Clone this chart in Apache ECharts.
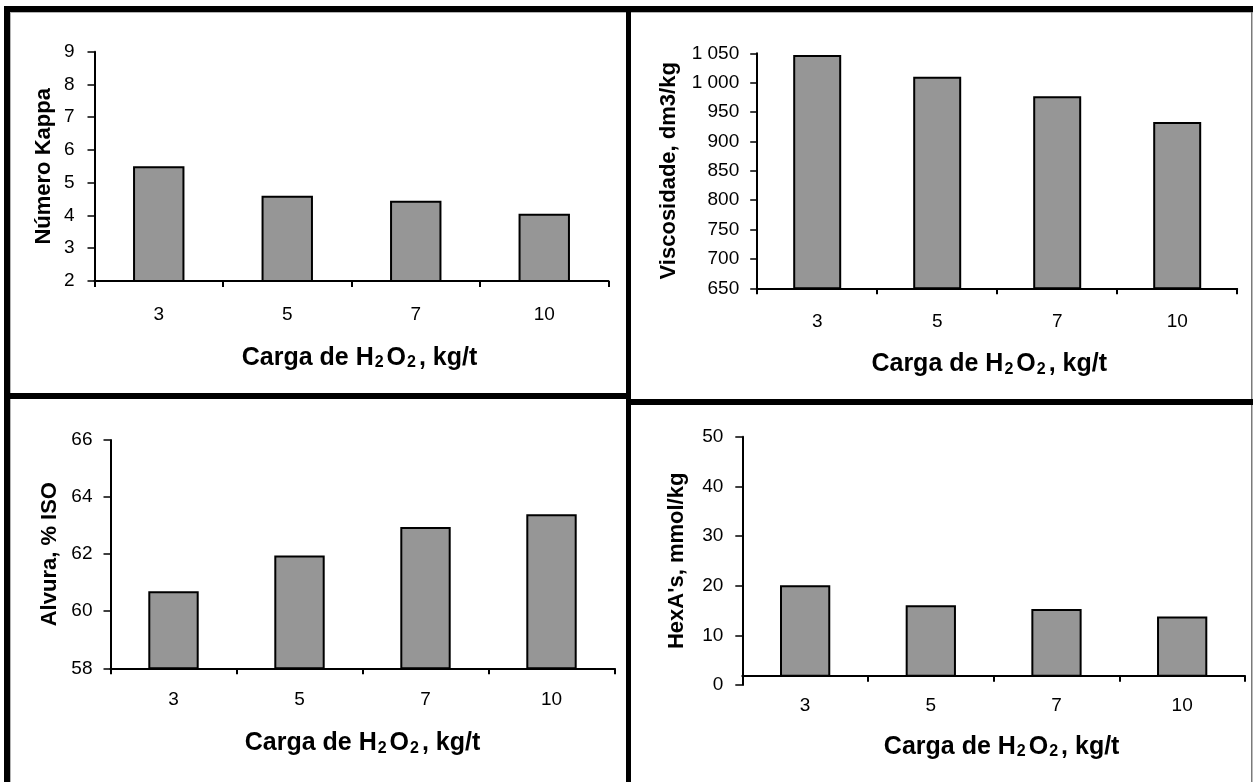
<!DOCTYPE html>
<html>
<head>
<meta charset="utf-8">
<script src="https://cdn.jsdelivr.net/npm/echarts@6/dist/echarts.min.js"></script>
<style>
  html, body { margin: 0; padding: 0; background: #fff; }
  #chart { width: 1253px; height: 782px; }
</style>
</head>
<body>
<div id="chart"></div>
<script>
// Peroxide charge (kg/t) on the category axis of every panel
const categories = ['3', '5', '7', '10'];

// Measured pulp properties per charge
const kappa = [5.5, 4.6, 4.45, 4.05];
const viscosidade = [1047, 1010, 977, 933];
const alvura = [60.7, 61.95, 62.95, 63.4];
const hexa = [20.1, 16.1, 15.3, 13.8];

// Value-axis ranges: [min, max, interval]
const kappaScale = [2, 9, 1];
const viscScale = [650, 1050, 50];
const alvuraScale = [58, 66, 2];
const hexaScale = [0, 50, 10];
// value at which the category axis crosses the HexA value axis
const hexaCross = 1.9;

// Axis titles
const yTitles = ['Número Kappa', 'Viscosidade, dm3/kg', 'Alvura, % ISO', "HexA's, mmol/kg"];
const xTitle = 'Carga de H{s|2}O{s|2}, kg/t';

const FONT = '"Liberation Sans", Arial, Helvetica, sans-serif';
const BAR = '#969696';

function thousands(v) {
  return String(v).replace(/\B(?=(\d{3})+(?!\d))/g, ' ');
}

const xNameStyle = {
  fontFamily: FONT, fontWeight: 'bold', fontSize: 25, color: '#000', lineHeight: 28,
  rich: {
    s: { fontFamily: FONT, fontWeight: 'bold', fontSize: 16, lineHeight: 16, padding: [10, 3, 0, 1], color: '#000' }
  }
};
const yNameStyle = { fontFamily: FONT, fontWeight: 'bold', fontSize: 22, color: '#000' };
const labelStyle = { fontFamily: FONT, fontSize: 19, color: '#000' };
const axisLine = { show: true, onZero: false, lineStyle: { color: '#000', width: 2 } };

function catAxis(gridIndex, labelMargin, nameGap, namePad) {
  return {
    type: 'category', gridIndex: gridIndex, data: categories, position: 'bottom',
    axisLine: axisLine,
    axisTick: { show: true, length: 6, lineStyle: { color: '#000', width: 2 } },
    axisLabel: Object.assign({ margin: labelMargin, interval: 0 }, labelStyle),
    splitLine: { show: false },
    name: xTitle, nameLocation: 'middle', nameGap: nameGap,
    nameTextStyle: Object.assign({ padding: namePad }, xNameStyle)
  };
}

function valAxis(gridIndex, scale, title, labelMargin, nameGap, fmt) {
  return {
    type: 'value', gridIndex: gridIndex,
    min: scale[0], max: scale[1], interval: scale[2],
    axisLine: axisLine,
    axisTick: { show: true, length: 7, lineStyle: { color: '#000', width: 1.5 } },
    axisLabel: Object.assign({ margin: labelMargin, formatter: fmt || null }, labelStyle),
    splitLine: { show: false },
    name: title, nameLocation: 'middle', nameGap: nameGap, nameRotate: 90,
    nameTextStyle: yNameStyle
  };
}

function bars(xi, yi, data) {
  return {
    type: 'bar', xAxisIndex: xi, yAxisIndex: yi, data: data,
    barCategoryGap: '60%', clip: true,
    itemStyle: { color: BAR, borderColor: '#000', borderWidth: 2 },
    emphasis: { disabled: true }, silent: true
  };
}

// Black table rules framing the four panels
const rules = [
  { x: 4, y: 6, w: 1249, h: 6 },
  { x: 4, y: 6, w: 6, h: 776 },
  { x: 626, y: 6, w: 5, h: 776 },
  { x: 4, y: 393, w: 625, h: 6 },
  { x: 626, y: 399, w: 627, h: 6 }
];
const graphics = rules.map(r => ({
  type: 'rect', silent: true, z: 100,
  shape: { x: r.x, y: r.y, width: r.w, height: r.h },
  style: { fill: '#000' }
}));
graphics.push(
  { type: 'rect', silent: true, shape: { x: 10, y: 12, width: 1, height: 770 }, style: { fill: '#b4b4b4' } },
  { type: 'rect', silent: true, shape: { x: 10, y: 12, width: 1243, height: 1 }, style: { fill: '#b4b4b4' } },
  { type: 'rect', silent: true, shape: { x: 1251, y: 12, width: 1.5, height: 770 }, style: { fill: '#7a7a7a' } }
);

const chart = echarts.init(document.getElementById('chart'), null, { renderer: 'canvas' });
chart.setOption({
  animation: false,
  backgroundColor: '#fff',
  textStyle: { fontFamily: FONT },
  graphic: graphics,
  grid: [
    { left: 94.5, top: 51.7, width: 514, height: 229.3, outerBoundsMode: 'none' },
    { left: 757.2, top: 53.3, width: 480, height: 235, outerBoundsMode: 'none' },
    { left: 110.5, top: 440, width: 504, height: 228.3, outerBoundsMode: 'none' },
    { left: 742.3, top: 436.7, width: 502.7, height: 248.3, outerBoundsMode: 'none' },
    { left: 742.3, top: 436.7, width: 502.7, height: 239, outerBoundsMode: 'none' }
  ],
  xAxis: [
    catAxis(0, 24, 63, [0, 0, 0, 16]),
    catAxis(1, 24, 62, [0, 16, 0, 0]),
    catAxis(2, 22, 61, [0, 0, 0, 0]),
    { type: 'category', gridIndex: 3, data: categories, show: false },
    catAxis(4, 21, 57, [0, 0, 0, 16])
  ],
  yAxis: [
    valAxis(0, kappaScale, yTitles[0], 20, 40),
    valAxis(1, viscScale, yTitles[1], 18, 77, thousands),
    valAxis(2, alvuraScale, yTitles[2], 18, 50),
    valAxis(3, hexaScale, yTitles[3], 19, 54),
    { type: 'value', gridIndex: 4, min: hexaCross, max: hexaScale[1], show: false, splitLine: { show: false } }
  ],
  series: [
    bars(0, 0, kappa),
    bars(1, 1, viscosidade),
    bars(2, 2, alvura),
    bars(4, 4, hexa)
  ]
});
</script>
</body>
</html>
